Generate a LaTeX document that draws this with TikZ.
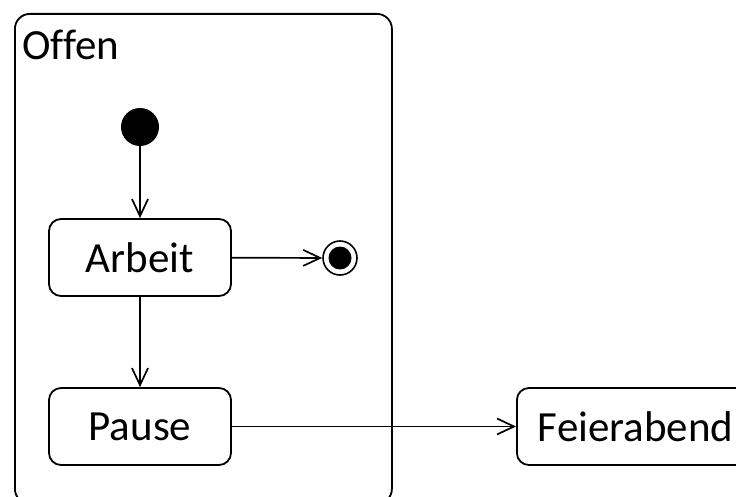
\documentclass[tikz,border=0pt]{standalone}
\usepackage{fontspec}
\setmainfont{Carlito}[Ligatures=CommonOff]
\usetikzlibrary{arrows.meta}
\begin{document}
\begin{tikzpicture}[x=1pt,y=-1pt,
  statebox/.style={draw, line width=1.8pt, rounded corners=12pt, minimum height=77pt, inner sep=0pt, font=\fontsize{43}{50}\selectfont},
  trans/.style={line width=1.7pt, -{Straight Barb[length=17pt,width=16pt,line width=1.7pt]}}]
\useasboundingbox (0,0) rectangle (736,497);
\clip (0,0) rectangle (736,497);
\fill[white] (0,0) rectangle (736,497);
\node[draw, line width=1.8pt, rounded corners=15pt, minimum width=377pt, minimum height=490pt, inner sep=0pt, anchor=north west] (offen) at (14,13) {};
\node[anchor=base west, inner sep=0pt, font=\fontsize{43}{50}\selectfont] (offenlbl) at (22,60) {Offen};
\node[circle, fill=black, minimum size=38pt, inner sep=0pt] (init) at (140,127) {};
\node[statebox, minimum width=182pt] (arbeit) at (140,257.5) {Arbeit};
\node[circle, draw, line width=1.6pt, minimum size=34pt, inner sep=0pt] (final) at (340,258) {};
\node[circle, fill=black, minimum size=23pt, inner sep=0pt] (finalin) at (final) {};
\node[statebox, minimum width=182pt] (pause) at (140,426.5) {Pause};
\node[statebox, anchor=west, inner xsep=21pt, text width=215pt, align=left] (feier) at (516,426.5) {Feierabend};
\draw[trans] (init) -- (arbeit);
\draw[trans] (arbeit) -- (final);
\draw[trans] (arbeit) -- (pause);
\draw[trans] (pause) -- (feier);
\end{tikzpicture}
\end{document}
